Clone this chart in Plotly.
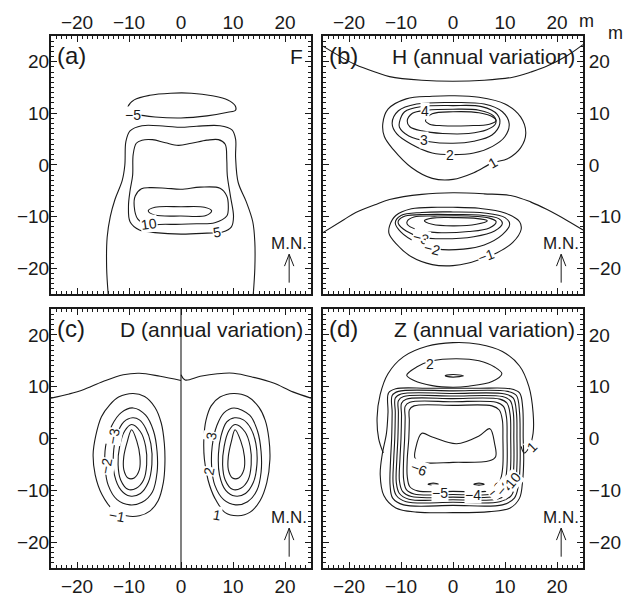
import plotly.graph_objects as go

# ---------------- data: contour isolines (x, y in m) ----------------
# Panel (a) F
F_m5 = [(-10.2,11.3),(-9,12.6),(-6,13.5),(-2,13.9),(2,13.9),(6,13.4),(9,12.6),(10.4,11.5),(10.5,10.6),(9,10.2),(5,9.5),(0,9.1),(-5,9.3),(-8.5,9.8),(-10.2,10.5),(-10.2,11.3)]
F_0 = [(-14.0,-25),(-14.3,-20),(-14.2,-14),(-13.6,-10),(-12.7,-6.7),(-11.3,-3),(-10.8,0),(-10.6,4.5),(-9.8,6.6),(-7.5,7.6),(-3,7.5),(0,7.3),(3,7.5),(7.5,7.6),(9.8,6.8),(10.5,5),(10.5,1.5),(11,-3.4),(12.5,-7),(13.8,-11),(14.2,-15),(14.2,-20),(13.9,-25)]
F_5 = [(-8.6,4.2),(-7.5,4.8),(-5.5,4.9),(-3,4.3),(-0.5,3.8),(2,4.2),(5,4.8),(7.2,4.9),(8.5,4.0),(8.8,1),(8.9,-2),(9.5,-6),(10.1,-10),(9.7,-12),(8,-13),(5,-13.2),(0,-13.4),(-5,-13.1),(-8,-12.6),(-9.8,-11),(-10.1,-8),(-9.8,-5),(-9.3,-2),(-9.2,2),(-8.6,4.2)]
F_10 = [(-7.6,-4.6),(-6,-4.4),(-3,-4.5),(0,-4.7),(3.7,-4.3),(7.5,-4.5),(8.8,-6),(9.1,-8),(8.8,-9.9),(6.5,-11.2),(3,-11.4),(0,-11.5),(-3,-11.5),(-6.3,-11.5),(-8.3,-10.5),(-9,-8),(-8.8,-6),(-7.6,-4.6)]
F_15 = [(-6.3,-8.9),(-5,-8.2),(0,-8.1),(4.5,-8.2),(5.9,-8.9),(4.8,-9.8),(0,-9.9),(-5,-9.7),(-6.3,-8.9)]
F_lines = [F_m5, F_0, F_5, F_10, F_15]
F_labels = [("\u22125", -9.3, 9.6, 0), ("10", -6.2, -11.5, -8), ("5", 7.0, -12.9, -10)]

# Panel (b) H (annual variation)
H_top = [(-25,23),(-21,20.6),(-18.7,19.4),(-15,18.0),(-12.2,17.1),(-6,16.4),(0,16.2),(6,16.4),(11.5,17.0),(15,18),(18,19.1),(22,21.2),(25,23.3)]
H_bot = [(-25,-13.1),(-21,-10.6),(-18.7,-9.2),(-15,-7.7),(-12.2,-6.7),(-6,-5.7),(0,-5.4),(6,-5.6),(11.5,-6.0),(15,-7.2),(18,-8.6),(22,-10.8),(25,-12.6)]
H_1 = [(-13.5,8),(-12.5,10.8),(-9,12.8),(-4,13.3),(0,13.4),(5,13.1),(10,11.8),(13,9.3),(14,6.2),(13,3.3),(10.5,1.2),(7.6,0.4),(4,-1.5),(0,-2.8),(-4,-2.6),(-8,-0.5),(-11.5,3),(-13.2,5.5),(-13.5,8)]
H_2 = [(-11.7,8.1),(-10.5,10.5),(-7,11.8),(0,12.1),(6,11.8),(9.5,10.3),(10.8,8),(10,5.5),(7.6,3.6),(4,2.3),(0,2.0),(-4,2.3),(-8,4),(-10.8,6),(-11.7,8.1)]
H_3 = [(-10.3,8.3),(-9.3,10.3),(-6,11.3),(0,11.5),(5.5,11.3),(8.5,9.8),(9,8),(7.5,5.8),(4,4.6),(0,4.2),(-4.5,4.5),(-8.5,5.6),(-10.3,7.3),(-10.3,8.3)]
H_4 = [(-8.8,8.5),(-7.8,10),(-5,10.6),(0,10.8),(5,10.6),(7.8,9.5),(8.2,8),(6.5,6.8),(3,6.1),(-2,6.1),(-6,6.6),(-8.3,7.4),(-8.8,8.5)]
H_5 = [(-5.3,8.6),(-4,9.9),(0,10.3),(5,10.1),(7.8,9.2),(8.3,8.6),(7,7.9),(3,7.6),(-2,7.6),(-4.5,7.9),(-5.3,8.6)]
H_m1 = [(-12.2,-11.8),(-11,-9.8),(-8,-8.5),(-3,-8.2),(0,-8.2),(5,-8.4),(10,-9.3),(12.8,-11),(13.1,-12.5),(11.5,-15),(8.5,-17),(6.3,-17.9),(3,-19),(0,-19.5),(-4,-19.3),(-8,-17.8),(-11,-15.2),(-12.3,-13.3),(-12.2,-11.8)]
H_m2 = [(-11.1,-11.2),(-10,-9.8),(-6,-9.2),(0,-9.1),(6,-9.3),(10,-10.2),(10.9,-11.5),(9.5,-13.5),(6,-15.5),(2,-16.3),(-3,-16.3),(-7,-15),(-10,-13),(-11.1,-11.2)]
H_m3 = [(-10.5,-10.8),(-9.2,-9.9),(-5,-9.6),(0,-9.6),(5,-9.7),(8.8,-10.4),(9.5,-11.3),(8,-12.8),(4,-13.9),(-2,-14.3),(-6.1,-14.0),(-9,-12.8),(-10.5,-11.4),(-10.5,-10.8)]
H_m4 = [(-8.8,-10.9),(-7.5,-10.1),(-3,-9.9),(3,-9.9),(7,-10.3),(8.3,-11),(7,-12.2),(3,-12.9),(-3,-13.1),(-7,-12.5),(-8.8,-11.5),(-8.8,-10.9)]
H_m5 = [(-5.5,-10.8),(-4,-10.3),(0,-10.2),(4,-10.3),(6.6,-10.8),(4.5,-11.5),(0,-11.8),(-4,-11.5),(-5.5,-10.8)]
H_lines = [H_top, H_bot, H_1, H_2, H_3, H_4, H_5, H_m1, H_m2, H_m3, H_m4, H_m5]
H_labels = [("4", -5.3, 10.4, 0), ("3", -5.5, 4.9, 0), ("2", -0.5, 2.0, 0), ("1", 7.6, 0.4, -30),
            ("\u22123", -6.2, -14.1, 15), ("\u22122", -4.0, -16.3, 15), ("\u22121", 6.3, -17.6, -20)]

# Panel (c) D (annual variation)
D_axis = [(0,-25),(0,25)]
D_topL = [(-25,7.8),(-21.5,8.6),(-18.8,9.4),(-15,11),(-11.1,12.3),(-8,12.6),(-4,12.0),(0,11.2)]
D_topR = [(0,12.3),(0.8,11.3),(3.7,12.0),(7,12.5),(10.1,12.6),(14,11.8),(17.8,10.7),(21.5,9),(25,7.8)]
D_m1 = [(-9.2,8.7),(-12,8.0),(-13.7,6.5),(-15.3,4.2),(-16.4,0.5),(-16.9,-3.1),(-16.5,-7),(-15.2,-10.8),(-13,-13.8),(-10.5,-14.9),(-8,-14.9),(-6,-14.0),(-4.4,-12),(-3.4,-8.5),(-3.1,-5),(-3.2,-1),(-3.8,3),(-5,6),(-7,8.1),(-9.2,8.7)]
D_m2 = [(-9.2,5.9),(-11.5,5.0),(-13.3,2.5),(-14.5,-1.5),(-14.6,-5.5),(-14,-9),(-12.3,-11.8),(-9.8,-12.8),(-7.5,-12.3),(-5.5,-10.3),(-4.6,-6.5),(-4.6,-2.5),(-5.3,1.5),(-6.8,4.5),(-9.2,5.9)]
D_m3 = [(-9.3,4.0),(-11,3.2),(-12.4,0.5),(-13.0,-3),(-12.8,-7),(-11.5,-10),(-9.8,-11.1),(-7.8,-10.6),(-6.3,-8.5),(-5.6,-5),(-5.8,-1),(-6.8,2),(-8,3.6),(-9.3,4.0)]
D_m4 = [(-9.5,2.7),(-10.8,1.5),(-11.8,-1.5),(-12.1,-5),(-11.6,-8),(-10.2,-9.8),(-8.6,-9.6),(-7.2,-8),(-6.6,-5),(-6.8,-1.5),(-7.8,1.3),(-9.5,2.7)]
D_m5 = [(-9.5,1.7),(-10.3,-0.5),(-11.0,-3.5),(-11.0,-6),(-10.2,-7.6),(-9.0,-7.6),(-8.0,-6),(-7.9,-3.5),(-8.5,-0.5),(-9.5,1.7)]
D_p1 = [(10.1,8.7),(7.5,8.0),(5.8,6.3),(4.8,3.5),(4.4,0),(4.5,-4),(5.2,-8),(6.5,-11.5),(8.5,-14.3),(11,-14.9),(13.3,-14.2),(15.2,-12),(16.5,-8.5),(17.1,-4),(16.9,0),(16.2,3.5),(15,6),(12.8,8.1),(10.1,8.7)]
D_p2 = [(10.2,5.9),(8.3,5.0),(6.9,2.5),(6.0,-1.5),(5.9,-5.5),(6.5,-9),(8.2,-11.8),(10.5,-12.8),(12.8,-12.2),(14.6,-10),(15.4,-6.5),(15.4,-2.5),(14.7,1.5),(13.2,4.5),(10.2,5.9)]
D_p3 = [(10.3,4.0),(8.8,3.2),(7.7,0.5),(7.2,-3),(7.4,-7),(8.6,-10),(10.4,-11.1),(12.4,-10.6),(13.9,-8.5),(14.6,-5),(14.4,-1),(13.4,2),(12,3.6),(10.3,4.0)]
D_p4 = [(10.4,2.7),(9.2,1.5),(8.3,-1.5),(8.0,-5),(8.5,-8),(9.9,-9.8),(11.5,-9.6),(12.9,-8),(13.5,-5),(13.3,-1.5),(12.3,1.3),(10.4,2.7)]
D_p5 = [(10.4,1.7),(9.7,-0.5),(9.1,-3.5),(9.1,-6),(9.9,-7.6),(11.1,-7.6),(12.1,-6),(12.2,-3.5),(11.5,-0.5),(10.4,1.7)]
D_lines = [D_axis, D_topL, D_topR, D_m1, D_m2, D_m3, D_m4, D_m5, D_p1, D_p2, D_p3, D_p4, D_p5]
D_labels = [("\u22123", -12.9, 0.4, -80), ("\u22122", -14.4, -5.3, -80), ("\u22121", -12.4, -15.0, 10),
            ("3", 5.9, 0.4, -80), ("2", 5.3, -6.4, -80), ("1", 7.0, -14.8, 10)]

# Panel (d) Z (annual variation)
Z_1 = [(-13.4,-2.8),(-14.3,0),(-14.6,4),(-14,8.5),(-12.5,12.5),(-9.5,15.8),(-5,17.8),(0,18.5),(5,18.2),(9.5,16.8),(12.8,14),(14.6,10),(15.4,5),(15.4,1),(14.6,-1.8),(13.7,-2.8),(13.1,-1.5)]
Z_2 = [(-8.9,12.2),(-7,13.8),(-4,15.0),(0.7,15.4),(5,15.0),(8,13.8),(9.4,12.5),(7.5,11.0),(3,10.1),(0,9.9),(-4,10.2),(-7.5,11.2),(-8.9,12.2)]
Z_3 = [(-1.5,12.1),(0,12.35),(2.0,12.1),(0,11.85),(-1.5,12.1)]
Z_0 = [(-12.4,8.8),(-11,9.6),(-5,9.7),(0,9.7),(5,9.7),(11,9.6),(12.8,8.8),(13.4,6),(13.5,0),(13.6,-4),(13.4,-8),(12.8,-11.5),(11,-13.4),(7,-14.1),(0,-14.3),(-7,-14.2),(-11,-13.4),(-13.3,-11),(-14,-7),(-13.6,-3),(-12.8,1),(-12.5,5),(-12.4,8.8)]
Z_m1 = [(-11.7,8.3),(-10.5,9.1),(0,9.2),(10.5,9.1),(12.2,8.3),(12.8,5),(12.9,0),(12.9,-5),(12.6,-9),(11.8,-11.5),(9.5,-12.8),(0,-12.9),(-9.5,-12.8),(-11.6,-11.5),(-12.1,-9),(-12.0,-4),(-11.8,0),(-11.7,5),(-11.7,8.3)]
Z_m2 = [(-11.1,7.8),(-10,8.6),(0,8.7),(10,8.6),(11.6,7.8),(12.2,5),(12.3,0),(12.3,-5),(12.0,-8.8),(11.2,-11.0),(9,-12.2),(0,-12.3),(-9,-12.2),(-10.9,-11.0),(-11.5,-8.8),(-11.4,-4),(-11.2,0),(-11.1,5),(-11.1,7.8)]
Z_m3 = [(-10.5,7.3),(-9.5,8.1),(0,8.2),(9.5,8.1),(11.0,7.3),(11.6,5),(11.7,0),(11.7,-5),(11.4,-8.5),(10.6,-10.6),(8.5,-11.7),(0,-11.8),(-8.5,-11.7),(-10.3,-10.6),(-10.9,-8.5),(-10.8,-4),(-10.6,0),(-10.5,5),(-10.5,7.3)]
Z_m4 = [(-9.9,6.8),(-9,7.6),(0,7.7),(9,7.6),(10.4,6.8),(11.0,4.5),(11.1,0),(11.1,-5),(10.8,-8.2),(10.0,-10.2),(8,-11.2),(0,-11.3),(-8,-11.2),(-9.7,-10.2),(-10.3,-8.2),(-10.2,-4),(-10.0,0),(-9.9,4.5),(-9.9,6.8)]
Z_m5 = [(-9.2,6.2),(-8.3,7.0),(0,7.1),(8.3,7.0),(9.7,6.2),(10.3,4),(10.4,0),(10.4,-5),(10.1,-7.8),(9.3,-9.8),(7.5,-10.7),(0,-10.8),(-7.5,-10.7),(-9.0,-9.8),(-9.5,-7.8),(-9.5,-4),(-9.3,0),(-9.2,4),(-9.2,6.2)]
Z_m6 = [(-8.4,5.5),(-7.5,6.3),(0,6.4),(7.5,6.3),(8.9,5.5),(9.5,3.5),(9.6,0),(9.6,-5),(9.3,-7.3),(8.5,-9.3),(6.8,-10.1),(0,-10.2),(-6.8,-10.1),(-8.3,-9.3),(-8.8,-7.3),(-8.8,-4),(-8.5,0),(-8.4,3.5),(-8.4,5.5)]
Z_m7a = [(-7.2,-2),(-6,1.0),(-4,0.3),(0.7,-1.0),(5,0.5),(7.1,1.9),(8,-1),(8.2,-3.5),(7,-4.3),(0,-4.6),(-6,-4.6),(-7.3,-3.8),(-7.2,-2)]
Z_m7b = [(-4.8,-8.8),(-3.8,-8.6),(-2.8,-8.8),(-3.8,-9.0),(-4.8,-8.8)]
Z_m7c = [(4.0,-8.8),(5.0,-8.6),(6.0,-8.8),(5.0,-9.0),(4.0,-8.8)]
Z_lines = [Z_1, Z_2, Z_3, Z_0, Z_m1, Z_m2, Z_m3, Z_m4, Z_m5, Z_m6, Z_m7a, Z_m7b, Z_m7c]
Z_labels = [("2", -4.4, 14.4, 0), ("1", 15.2, -1.6, -45), ("\u22126", -6.5, -5.8, 20),
            ("\u22125", -2.5, -10.6, 0), ("\u22124", 3.8, -10.8, 0), ("\u22123", 8.2, -10.0, -40),
            ("\u22122", 9.8, -9.5, -50), ("10", 11.6, -8.0, -50)]

panel_titles = [("(a)", "F"), ("(b)", "H (annual variation)"), ("(c)", "D (annual variation)"), ("(d)", "Z (annual variation)")]
tick_vals = [-20, -10, 0, 10, 20]

# ---------------- figure ----------------
W, H = 626, 597
FONT = "Liberation Sans, Arial, Helvetica, sans-serif"
INK = "#1a1a1a"

def px_x(p):
    return p / W

def px_y(p):
    return 1 - p / H

dom_x = [[px_x(51), px_x(311)], [px_x(323), px_x(583)], [px_x(51), px_x(311)], [px_x(323), px_x(583)]]
dom_y = [[px_y(295), px_y(36)], [px_y(295), px_y(36)], [px_y(570), px_y(310)], [px_y(570), px_y(310)]]
xside = ["top", "top", "bottom", "bottom"]
yside = ["left", "right", "left", "right"]
xstand = [-3, -3, 0, 0]
ystand = [-4, 0, -4, 0]

fig = go.Figure()
all_lines = [F_lines, H_lines, D_lines, Z_lines]
all_labels = [F_labels, H_labels, D_labels, Z_labels]

for i in range(4):
    xa = "x" if i == 0 else f"x{i+1}"
    ya = "y" if i == 0 else f"y{i+1}"
    for line in all_lines[i]:
        fig.add_trace(go.Scatter(
            x=[p[0] for p in line], y=[p[1] for p in line], mode="lines",
            line=dict(color=INK, width=1.1, shape="spline", smoothing=1.0),
            xaxis=xa, yaxis=ya, hoverinfo="skip", showlegend=False))
    for (txt, lx, ly, ang) in all_labels[i]:
        fig.add_annotation(x=lx, y=ly, xref=xa, yref=ya, text=txt, showarrow=False,
                           font=dict(family=FONT, size=14, color=INK), textangle=ang,
                           bgcolor="white", borderpad=0)
    # panel letter and title
    fig.add_annotation(x=-24.3, y=21.2, xref=xa, yref=ya, text=panel_titles[i][0], showarrow=False,
                       xanchor="left", yanchor="middle", font=dict(family=FONT, size=24, color=INK))
    fig.add_annotation(x=23.8, y=21.0, xref=xa, yref=ya, text=panel_titles[i][1], showarrow=False,
                       xanchor="right", yanchor="middle", font=dict(family=FONT, size=21, color=INK))
    # magnetic north marker
    fig.add_annotation(x=20.8, y=-15.2, xref=xa, yref=ya, text="M.N.", showarrow=False,
                       xanchor="center", yanchor="middle", font=dict(family=FONT, size=17, color=INK))
    fig.add_shape(type="path", xref=xa, yref=ya,
                  path="M 20.8,-22.8 L 20.8,-17.3 M 19.9,-19.6 L 20.8,-17.3 L 21.7,-19.6",
                  line=dict(color=INK, width=1))

axis_common = dict(range=[-25, 25], tickmode="array", tickvals=tick_vals, ticks="inside", ticklen=6,
                   tickwidth=1, tickcolor=INK, showline=True, linewidth=2, linecolor=INK,
                   mirror="ticks", showgrid=False, zeroline=False,
                   tickfont=dict(family=FONT, size=19, color=INK),
                   minor=dict(ticks="inside", ticklen=3, tickwidth=1, tickcolor=INK, dtick=1, tick0=0,
                              showgrid=False))

layout = dict(width=W, height=H, margin=dict(l=0, r=0, t=0, b=0), plot_bgcolor="white",
              paper_bgcolor="white", showlegend=False)
for i in range(4):
    xk = "xaxis" if i == 0 else f"xaxis{i+1}"
    yk = "yaxis" if i == 0 else f"yaxis{i+1}"
    ya = "y" if i == 0 else f"y{i+1}"
    xa = "x" if i == 0 else f"x{i+1}"
    layout[xk] = dict(axis_common, domain=dom_x[i], anchor=ya, side=xside[i], ticklabelstandoff=xstand[i])
    layout[yk] = dict(axis_common, domain=dom_y[i], anchor=xa, side=yside[i], ticklabelstandoff=ystand[i])
fig.update_layout(**layout)

# unit labels
fig.add_annotation(x=px_x(577), y=px_y(21), xref="paper", yref="paper", text="m", showarrow=False,
                   xanchor="left", yanchor="middle", font=dict(family=FONT, size=18, color=INK))
fig.add_annotation(x=px_x(606), y=px_y(33), xref="paper", yref="paper", text="m", showarrow=False,
                   xanchor="left", yanchor="middle", font=dict(family=FONT, size=18, color=INK))

fig.write_html("out.html", config={"displayModeBar": False},
               post_script="document.body.style.margin='0';document.body.style.overflow='hidden';")
